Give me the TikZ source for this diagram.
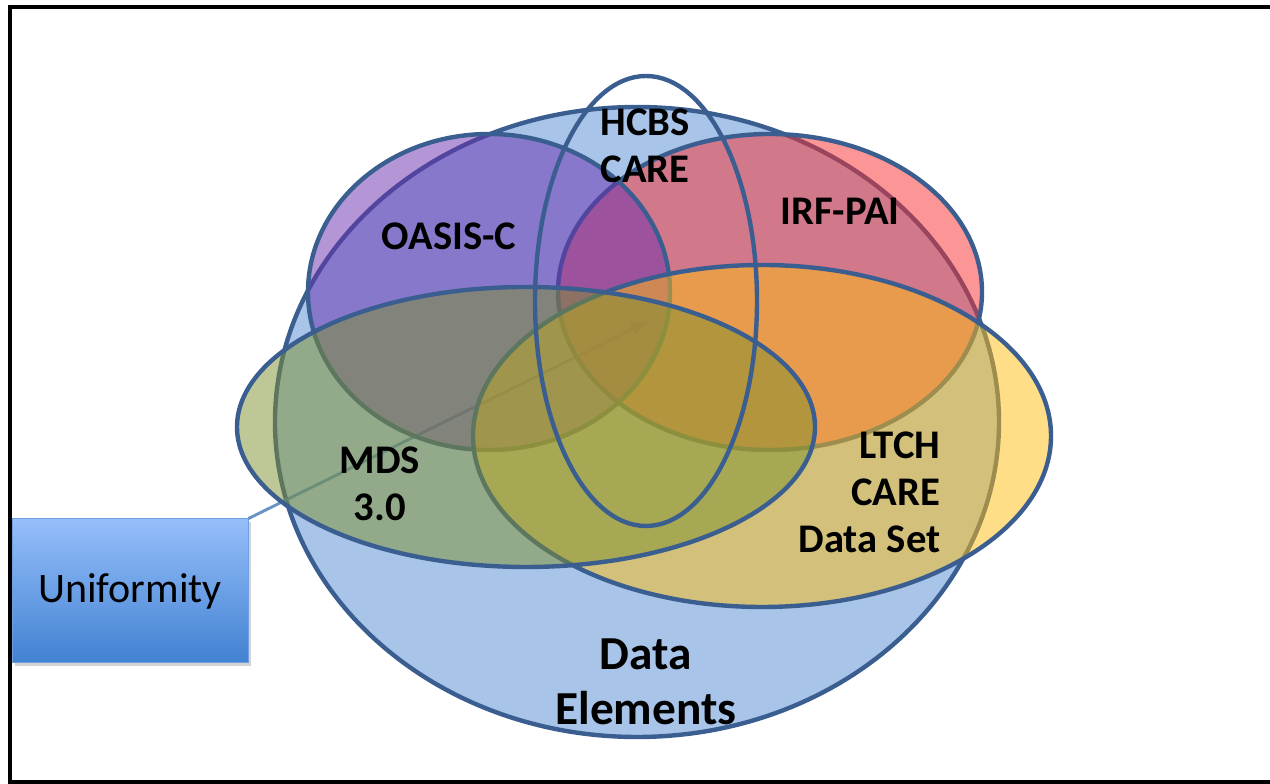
\documentclass[tikz,border=0pt]{standalone}
\usepackage{fontspec}
\setmainfont{Carlito}
\usetikzlibrary{arrows.meta,shadows}
\definecolor{vennline}{RGB}{59,94,145}
\definecolor{dataBlue}{RGB}{168,196,232}
\definecolor{irfRed}{RGB}{250,45,45}
\definecolor{oasisPurple}{RGB}{105,45,175}
\definecolor{ltchYellow}{RGB}{255,190,15}
\definecolor{mdsGreen}{RGB}{125,145,45}
\definecolor{arrowBlue}{RGB}{79,129,189}
\definecolor{boxTop}{RGB}{150,190,250}
\definecolor{boxBot}{RGB}{65,130,210}
\definecolor{boxLine}{RGB}{110,160,225}
\tikzset{
  venn/.style={draw=vennline, line width=3.3pt, fill=#1, fill opacity=0.5},
  lbl/.style={font=\bfseries\fontsize{30.5}{35.6}\selectfont, align=center, anchor=base},
}

\begin{document}
\begin{tikzpicture}[x=0.75pt,y=0.75pt]
    \useasboundingbox (0,0) rectangle (1270,784);

    % callout box
    \node[draw=boxLine, line width=0.75pt, top color=boxTop, bottom color=boxBot,
      minimum width=177pt, minimum height=108pt,
      drop shadow={opacity=0.35, shadow xshift=2pt, shadow yshift=-2pt},
      font=\fontsize{31.5}{36}\selectfont] (unif) at (130,193) {Uniformity};

    % data elements
    \draw[draw=vennline, line width=3.3pt, fill=dataBlue] (637,362) ellipse [x radius=362, y radius=315];

    % pointer
    \coordinate (tip) at (647,462);
    \draw[arrowBlue, line width=2.2pt, opacity=0.85, -{Triangle[length=12pt,width=10pt]}] (unif.north east) -- (tip);

    % the five data sets
    \draw[venn=irfRed] (770,492) ellipse [x radius=212, y radius=158];
    \draw[venn=oasisPurple] (489,492) ellipse [x radius=181, y radius=158];
    \draw[venn=ltchYellow] (762,348) ellipse [x radius=289, y radius=171];
    \draw[venn=mdsGreen] (526,357) ellipse [x radius=289, y radius=140];
    \draw[draw=vennline, line width=3.3pt] (646,483) ellipse [x radius=111, y radius=225];

    % labels (base = last line)
    \node[lbl] (hcbs) at (645,601) {HCBS\\CARE};
    \node[lbl] (oasis) at (449,534) {OASIS-C};
    \node[lbl] (irf) at (840,559) {IRF-PAI};
    \node[lbl] (mds) at (380,263) {MDS\\3.0};
    \node[lbl, align=right, anchor=base east] (ltch) at (945,231) {LTCH\\CARE\\Data Set};
    \node[lbl, font=\bfseries\fontsize{35.5}{41.3}\selectfont] (data) at (646,59) {Data\\Elements};

    % frame
    \draw[line width=3pt] (10,2) rectangle (1300,777);
\end{tikzpicture}
\end{document}
